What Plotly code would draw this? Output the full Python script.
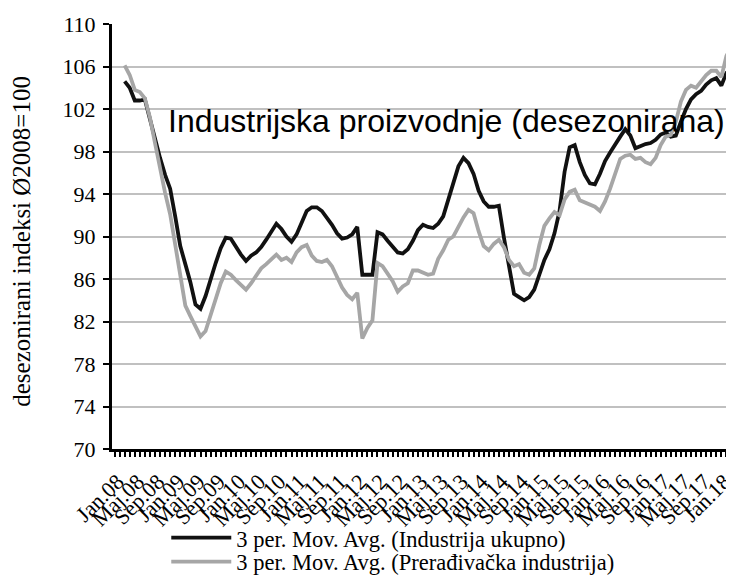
import plotly.graph_objects as go

# Month categories Jan.08 .. Mar.18 (labels shown every 4 months)
month_names = ["Jan", "Feb", "Mar", "Apr", "Maj", "Jun", "Jul", "Avg", "Sep", "Okt", "Nov", "Dec"]
categories = [f"{month_names[m]}.{y:02d}" for y in range(8, 19) for m in range(12)][:123]
tick_labels = [c if i % 4 == 0 else "" for i, c in enumerate(categories)]

# 3-period moving averages start at Mar.08 (index 2)
start_index = 2
industrija_ukupno = [
    104.6, 104.0, 102.8, 102.8, 102.9, 101.0, 99.1, 97.4, 95.8, 94.5,
    91.9, 89.1, 87.4, 85.7, 83.6, 83.2, 84.4, 86.1, 87.5, 88.9,
    89.9, 89.8, 89.0, 88.3, 87.7, 88.2, 88.5, 89.0, 89.7, 90.5,
    91.2, 90.7, 90.0, 89.5, 90.2, 91.3, 92.4, 92.75, 92.75, 92.4,
    91.8, 91.1, 90.3, 89.8, 89.9, 90.2, 90.9, 86.4, 86.4, 86.4,
    90.4, 90.2, 89.6, 89.1, 88.5, 88.4, 88.8, 89.6, 90.6, 91.1,
    90.9, 90.8, 91.2, 91.9, 93.5, 95.1, 96.6, 97.4, 96.9, 95.9,
    94.3, 93.3, 92.8, 92.8, 92.9, 89.9, 87.0, 84.6, 84.3, 84.0,
    84.3, 85.0, 86.4, 87.8, 88.8, 90.3, 92.4, 96.1, 98.4, 98.6,
    97.0, 95.8, 95.0, 94.9, 95.9, 97.1, 97.9, 98.7, 99.4, 100.1,
    99.5, 98.3, 98.5, 98.7, 98.8, 99.1, 99.6, 99.8, 99.4, 99.5,
    100.8, 102.0, 102.9, 103.4, 103.7, 104.3, 104.7, 104.9, 104.2, 105.4,
    105.8,
]
preradjivacka = [
    106.1, 105.2, 103.8, 103.6, 103.0, 101.2, 98.8, 96.3, 94.1, 92.1,
    89.1, 86.1, 83.5, 82.5, 81.5, 80.6, 81.1, 82.6, 84.2, 85.6,
    86.7, 86.4, 85.9, 85.5, 85.0, 85.6, 86.3, 87.0, 87.4, 87.8,
    88.3, 87.8, 88.0, 87.6, 88.5, 89.0, 89.2, 88.2, 87.7, 87.6,
    87.8, 87.2, 86.1, 85.2, 84.5, 84.1, 84.7, 80.4, 81.4, 82.1,
    87.5, 87.2, 86.5, 85.8, 84.8, 85.3, 85.6, 86.8, 86.8, 86.6,
    86.4, 86.5, 87.9, 88.7, 89.7, 90.0, 91.0, 91.8, 92.5, 92.2,
    90.5, 89.1, 88.7, 89.3, 89.7, 89.0, 87.8, 87.2, 87.4, 86.6,
    86.4, 87.0, 89.2, 91.0, 91.7, 92.3, 92.0, 93.5, 94.2, 94.4,
    93.4, 93.2, 93.0, 92.8, 92.4, 93.3, 94.5, 95.8, 97.3, 97.6,
    97.7, 97.3, 97.4, 97.0, 96.8, 97.4, 98.6, 99.4, 99.55, 100.8,
    102.7, 103.8, 104.2, 104.0, 104.6, 105.2, 105.6, 105.6, 105.0, 107.0,
    107.8,
]
y_ticks = [70, 74, 78, 82, 86, 90, 94, 98, 102, 106, 110]

x_black = list(range(start_index, start_index + len(industrija_ukupno)))
x_gray = list(range(start_index, start_index + len(preradjivacka)))

serif = "Liberation Serif"

fig = go.Figure()
fig.add_trace(go.Scatter(
    x=x_black, y=industrija_ukupno, mode="lines",
    name="3 per. Mov. Avg. (Industrija ukupno)",
    line=dict(color="#111111", width=3.8), legend="legend",
))
fig.add_trace(go.Scatter(
    x=x_gray, y=preradjivacka, mode="lines",
    name="3 per. Mov. Avg. (Prerađivačka industrija)",
    line=dict(color="#a6a6a6", width=3.8), legend="legend2",
))

legend_style = dict(
    xref="container", yref="container", xanchor="left", yanchor="top",
    font=dict(family=serif, size=22.5, color="black"),
    bgcolor="rgba(0,0,0,0)", itemwidth=60,
)

fig.update_layout(
    width=726, height=567,
    margin=dict(l=104, r=0, t=16, b=126, autoexpand=False),
    paper_bgcolor="white", plot_bgcolor="white",
    font=dict(family=serif, color="black"),
    showlegend=True,
    legend=dict(x=0.218, y=0.103, **legend_style),
    legend2=dict(x=0.218, y=0.061, **legend_style),
    xaxis=dict(
        range=[-0.5, len(categories) - 0.5],
        tickmode="array", tickvals=list(range(len(categories))), ticktext=tick_labels,
        tickangle=-45, tickfont=dict(family=serif, size=22),
        ticks="outside", ticklen=5, tickwidth=1.5, tickcolor="black",
        ticklabelstandoff=3, ticklabelshift=3, ticklabeloverflow="allow",
        showline=True, linewidth=3, linecolor="black",
        showgrid=False, zeroline=False, automargin=False,
    ),
    yaxis=dict(
        range=[70, 110], tickmode="array", tickvals=y_ticks,
        tickfont=dict(family=serif, size=22),
        ticks="outside", ticklen=6, tickwidth=2, tickcolor="black",
        ticklabelstandoff=3,
        showline=True, linewidth=3, linecolor="black",
        showgrid=True, gridcolor="#c0c0c0", gridwidth=2,
        zeroline=False, automargin=False,
    ),
    annotations=[
        dict(
            text="Industrijska proizvodnje (desezonirana)",
            xref="paper", yref="paper", x=0.538, y=0.772,
            xanchor="center", yanchor="middle", showarrow=False,
            font=dict(family="Liberation Sans", size=32, color="black"),
        ),
        dict(
            text="desezonirani indeksi Ø2008=100",
            xref="paper", yref="paper", x=-0.1447, y=0.49,
            xanchor="center", yanchor="middle", showarrow=False, textangle=-90,
            font=dict(family=serif, size=25, color="black"),
        ),
    ],
)

fig.write_html("out.html")
